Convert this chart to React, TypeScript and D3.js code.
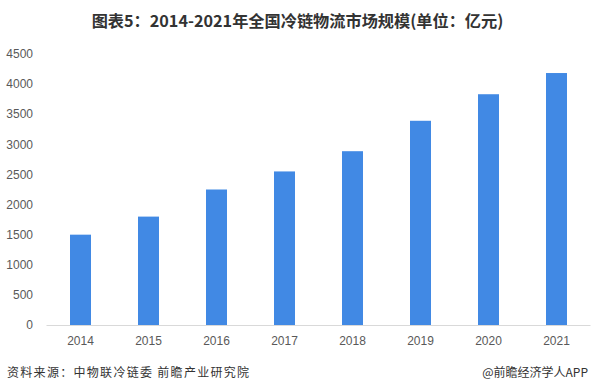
import React from "react";
import * as d3 from "d3";

const categories = ["2014", "2015", "2016", "2017", "2018", "2019", "2020", "2021"];
const values = [1500, 1800, 2250, 2550, 2886, 3391, 3832, 4184];
const yTicks = [0, 500, 1000, 1500, 2000, 2500, 3000, 3500, 4000, 4500];
const title = "图表5：2014-2021年全国冷链物流市场规模(单位：亿元)";
const source = "资料来源：中物联冷链委 前瞻产业研究院";
const credit = "@前瞻经济学人APP";

const W = 595;
const H = 392;
const font = "'Noto Sans CJK SC', 'Liberation Sans', Arial, sans-serif";
const numFont = "'Liberation Sans', Arial, sans-serif";

export default function App() {
  const x = d3.scaleBand<string>().domain(categories).range([46.5, 590.5]).paddingInner(0.69).paddingOuter(0.345);
  const y = d3.scaleLinear().domain([0, 4500]).range([325, 54]);
  const bw = 21;
  return (
    <svg width={W} height={H} style={{ position: "absolute", left: 0, top: 0, background: "#fff" }} fontFamily={font}>
      <rect width={W} height={H} fill="#fff" />
      <text x={297.5} y={27} textAnchor="middle" fontSize={16.2} fontWeight="bold" fill="#333">{title}</text>
      {yTicks.map((t) => (
        <text key={t} x={33} y={y(t)} dy="0.35em" textAnchor="end" fontSize={12} fill="#595959" fontFamily={numFont}>{t}</text>
      ))}
      {categories.map((c, i) => {
        const cx = (x(c) as number) + x.bandwidth() / 2;
        return (
          <g key={c}>
            <rect x={cx - bw / 2} y={y(values[i])} width={bw} height={y(0) - y(values[i])} fill="#4189E4" />
            <text x={cx} y={345} textAnchor="middle" fontSize={12} fill="#595959" fontFamily={numFont}>{c}</text>
          </g>
        );
      })}
      <line x1={46.5} x2={590.5} y1={325.5} y2={325.5} stroke="#d9d9d9" strokeWidth={1} />
      <text x={7} y={377} fontSize={12} letterSpacing={1.3} fill="#333">{source}</text>
      <text x={588} y={377} textAnchor="end" fontSize={12} fill="#333">{credit}</text>
    </svg>
  );
}
